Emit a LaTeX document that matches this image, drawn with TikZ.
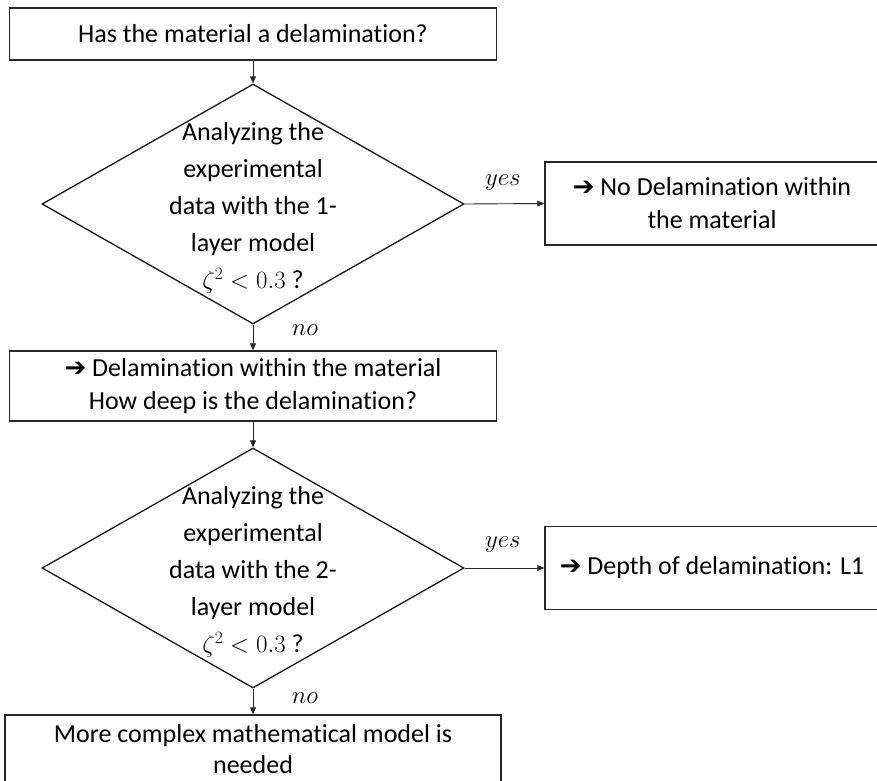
\documentclass[tikz,border=0pt]{standalone}
\usepackage{fontspec}
\setmainfont{Carlito}[Ligatures=NoCommon]
\newfontfamily\symfont{DejaVu Sans Bold}
\usetikzlibrary{shapes.geometric,arrows.meta}
\newcommand{\darr}{{\symfont\char"2794}}
\begin{document}
\begin{tikzpicture}[x=1pt,y=-1pt,
  txt/.style={font=\fontsize{26}{33}\selectfont, align=center},
  box/.style={txt, draw=black!85, line width=1.4pt, inner sep=0pt},
  dia/.style={draw=black!90, line width=1.3pt, diamond, inner sep=0pt, minimum width=422pt, minimum height=240pt},
  diatxt/.style={font=\fontsize{26}{37}\selectfont, align=center, inner sep=0pt},
  lbl/.style={font=\fontsize{26}{30}\selectfont, inner sep=0pt},
  conn/.style={draw=black!85, line width=0.9pt, -{Triangle[length=7pt,width=6pt]}}
]
\useasboundingbox (0,0) rectangle (877,780);
\clip (0,0) rectangle (877,780);
\fill[white] (0,0) rectangle (877,780);

\node[box, minimum width=487pt, minimum height=52pt] (b1) at (253,34) {Has the material a delamination?};
\node[dia] (d1) at (253,204) {};
\node[diatxt] (t1) at (253,208) {Analyzing the\\experimental\\data with the 1-\\layer model\\$\zeta^2 < 0.3$ ?};
\node[box, minimum width=334pt, minimum height=83pt] (r1) at (712,203.5) {\darr\ No Delamination within\\the material};
\node[box, minimum width=487pt, minimum height=70pt] (b2) at (253,386) {\darr\ Delamination within the material\\How deep is the delamination?};
\node[dia] (d2) at (253,568) {};
\node[diatxt] (t2) at (253,572) {Analyzing the\\experimental\\data with the 2-\\layer model\\$\zeta^2 < 0.3$ ?};
\node[box, minimum width=334pt, minimum height=83pt] (r2) at (712,568) {\darr\ Depth of delamination: L1};
\node[box, minimum width=496pt, minimum height=70pt] (b3) at (253,750) {};
\node[txt, inner sep=0pt, font=\fontsize{26}{31}\selectfont] (t3) at (253,749) {More complex mathematical model is\\needed};

\node[lbl] (y1) at (503,183) {$yes$};
\node[lbl] (n1) at (305,330) {$no$};
\node[lbl] (y2) at (503,545) {$yes$};
\node[lbl] (n2) at (305,698) {$no$};

\draw[conn] (b1.south) -- (d1.north);
\draw[conn] (d1.east) -- (r1.west);
\draw[conn] (d1.south) -- (b2.north);
\draw[conn] (b2.south) -- (d2.north);
\draw[conn] (d2.east) -- (r2.west);
\draw[conn] (d2.south) -- (b3.north);
\end{tikzpicture}
\end{document}
